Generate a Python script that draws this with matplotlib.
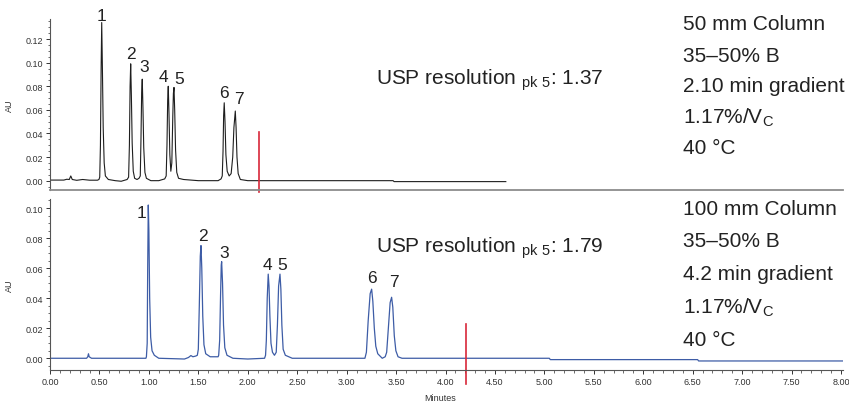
import numpy as np
import matplotlib
matplotlib.use('Agg')
import matplotlib.pyplot as plt
from matplotlib.ticker import MultipleLocator, FormatStrFormatter

plt.rcParams['font.family'] = ['Liberation Sans', 'DejaVu Sans']
plt.rcParams['mathtext.fontset'] = 'custom'
plt.rcParams['mathtext.rm'] = 'Liberation Sans'

# ---- 50 mm column trace (minutes, AU)
t_50 = [0.00, 0.14, 0.17, 0.195, 0.21, 0.225, 0.27, 0.33, 0.40, 0.48, 0.495,
        0.503, 0.510, 0.517, 0.523, 0.530, 0.538, 0.548, 0.560, 0.590, 0.66, 0.72, 0.78,
        0.795, 0.803, 0.810, 0.816, 0.823, 0.831, 0.842, 0.856, 0.880, 0.900,
        0.913, 0.920, 0.927, 0.933, 0.940, 0.948, 0.960, 0.975, 1.02, 1.10, 1.16,
        1.175, 1.183, 1.190, 1.196, 1.203, 1.212, 1.222, 1.232, 1.242, 1.248, 1.254,
        1.261, 1.270, 1.282, 1.300, 1.35, 1.50, 1.70, 1.73,
        1.742, 1.750, 1.756, 1.762, 1.770, 1.779, 1.792, 1.812, 1.832, 1.848, 1.860,
        1.874, 1.882, 1.891, 1.903, 1.925, 2.00, 3.47, 3.48, 4.61]
au_50 = [0.0005, 0.0005, 0.0012, 0.0010, 0.0040, 0.0010, 0.0003, 0.0010, 0.0004, 0.0004, 0.0010,
         0.003, 0.030, 0.095, 0.134, 0.095, 0.045, 0.015, 0.004, 0.001, 0.000, -0.0005, 0.0010,
         0.003, 0.030, 0.080, 0.099, 0.072, 0.032, 0.008, 0.002, 0.001, 0.002,
         0.004, 0.035, 0.075, 0.086, 0.062, 0.028, 0.007, 0.002, 0.000, 0.000, 0.0015,
         0.004, 0.030, 0.068, 0.080, 0.058, 0.022, 0.008, 0.015, 0.055, 0.074, 0.079,
         0.060, 0.026, 0.007, 0.002, 0.001, 0.000, 0.000, 0.0015,
         0.004, 0.025, 0.055, 0.066, 0.050, 0.022, 0.008, 0.004, 0.006, 0.020, 0.045,
         0.059, 0.045, 0.020, 0.006, 0.001, 0.000, 0.000, -0.0008, -0.0008]

# ---- 100 mm column trace
t_100 = [0.00, 0.37, 0.382, 0.389, 0.396, 0.42, 0.97,
         0.975, 0.983, 0.988, 0.994, 1.000, 1.008, 1.018, 1.032, 1.055, 1.10,
         1.36, 1.40, 1.425, 1.445, 1.475, 1.49,
         1.500, 1.510, 1.520, 1.527, 1.535, 1.545, 1.557, 1.575, 1.62, 1.70,
         1.706, 1.716, 1.725, 1.732, 1.736, 1.745, 1.755, 1.768, 1.790, 1.85, 2.00, 2.17,
         2.180, 2.188, 2.197, 2.207, 2.215, 2.224, 2.235, 2.250, 2.270,
         2.288, 2.300, 2.312, 2.326, 2.335, 2.345, 2.358, 2.38, 2.45,
         3.185, 3.200, 3.218, 3.238, 3.253, 3.265, 3.280, 3.295, 3.315, 3.36,
         3.390, 3.405, 3.422, 3.440, 3.455, 3.467, 3.482, 3.498, 3.520, 3.56,
         5.05, 5.06, 6.55, 6.56, 8.02]
au_100 = [0.0, 0.0, 0.0010, 0.0030, 0.0010, 0.0, 0.0,
          0.001, 0.010, 0.060, 0.102, 0.085, 0.040, 0.014, 0.005, 0.002, 0.000,
          -0.0005, 0.0005, 0.0018, 0.0010, 0.0015, 0.0020,
          0.006, 0.035, 0.068, 0.075, 0.060, 0.028, 0.009, 0.003, 0.001, 0.001,
          0.002, 0.012, 0.042, 0.062, 0.0643, 0.050, 0.022, 0.007, 0.002, 0.000, -0.0005, 0.000,
          0.002, 0.012, 0.040, 0.056, 0.048, 0.028, 0.010, 0.004, 0.002,
          0.004, 0.022, 0.048, 0.056, 0.046, 0.022, 0.006, 0.002, 0.000,
          0.000, 0.004, 0.025, 0.043, 0.046, 0.038, 0.020, 0.008, 0.003, 0.000,
          0.001, 0.004, 0.020, 0.037, 0.0406, 0.034, 0.015, 0.005, 0.001, 0.000,
          0.000, -0.0009, -0.0009, -0.0018, -0.0018]

peak_names = ['1', '2', '3', '4', '5', '6', '7']
label_t_50 = [0.523, 0.816, 0.953, 1.146, 1.307, 1.759, 1.908]
label_y_50 = [0.1398, 0.108, 0.0966, 0.0884, 0.0867, 0.0743, 0.0698]
label_t_100 = [0.927, 1.550, 1.759, 2.197, 2.353, 3.253, 3.481]
label_y_100 = [0.0971, 0.0816, 0.0705, 0.0627, 0.0627, 0.0539, 0.0510]

gradient_end = [2.113, 4.21]
marker_span = [(-0.0093, 0.0415), (-0.0171, 0.0229)]
resolution = ['1.37', '1.79']
conditions_50 = ['50 mm Column', '35\u201350% B', '2.10 min gradient',
                 '1.17%/V$_{\\mathrm{C}}$', '40 \u00b0C']
conditions_100 = ['100 mm Column', '35\u201350% B', '4.2 min gradient',
                  '1.17%/V$_{\\mathrm{C}}$', '40 \u00b0C']

fig = plt.figure(figsize=(8.49, 4.02), dpi=100)
ax1 = fig.add_axes([0.0589, 0.5249, 0.934, 0.4254])
ax2 = fig.add_axes([0.0589, 0.0779, 0.934, 0.4246])

ax1.plot(t_50, au_50, color='#1e1e1e', lw=0.8)
ax2.plot(t_100, au_100, color='#3d5ca6', lw=0.9)

ax1.set_ylim(-0.0079, 0.137)
ax2.set_ylim(-0.0076, 0.106)

for ax, tl, yl, g, span in [(ax1, label_t_50, label_y_50, gradient_end[0], marker_span[0]),
                            (ax2, label_t_100, label_y_100, gradient_end[1], marker_span[1])]:
    ax.set_xlim(0, 8.02)
    for sp in ['top', 'right']:
        ax.spines[sp].set_visible(False)
    ax.spines['left'].set_color('#555555')
    ax.spines['left'].set_linewidth(0.8)
    ax.yaxis.set_major_locator(MultipleLocator(0.02))
    ax.yaxis.set_minor_locator(MultipleLocator(0.005))
    ax.yaxis.set_major_formatter(FormatStrFormatter('%.2f'))
    ax.tick_params(axis='y', which='major', length=3, width=0.7, pad=2,
                   labelsize=6.5, colors='#333333')
    ax.tick_params(axis='y', which='minor', length=1.8, width=0.6, colors='#555555')
    ax.set_ylabel('AU', fontsize=6.5, color='#333333')
    ax.yaxis.set_label_coords(-0.0454, 0.5)
    ax.plot([g, g], span, color='#d8283a', lw=1.2, clip_on=False)
    for name, x, y in zip(peak_names, tl, yl):
        ax.text(x, y, name, fontsize=12.5, ha='center', va='center',
                color='#222222', clip_on=False)

ax1.spines['bottom'].set_color('#8c8c8c')
ax1.spines['bottom'].set_linewidth(1.3)
ax1.set_xticks([])

ax2.spines['bottom'].set_color('#555555')
ax2.spines['bottom'].set_linewidth(0.8)
ax2.xaxis.set_major_locator(MultipleLocator(0.5))
ax2.xaxis.set_minor_locator(MultipleLocator(0.1))
ax2.xaxis.set_major_formatter(FormatStrFormatter('%.2f'))
ax2.tick_params(axis='x', which='major', length=3, width=0.7, pad=2,
                labelsize=6.5, colors='#333333')
ax2.tick_params(axis='x', which='minor', length=2, width=0.6, colors='#555555')
ax2.set_xlabel('Minutes', fontsize=6.5, color='#333333')
ax2.xaxis.set_label_coords(0.492, -0.136)

# annotation text
W, H = 849.0, 402.0
for y_px, res in zip([80, 248], resolution):
    fig.text(376 / W, 1 - y_px / H,
             'USP resolution $\\mathrm{_{pk\\ 5}}$: ' + res,
             fontsize=15, ha='left', va='center', color='#222222')

for lines, ys in [(conditions_50, [25, 56, 87, 118, 149]),
                  (conditions_100, [210, 242, 275, 308, 341])]:
    for s, y_px in zip(lines, ys):
        fig.text(683 / W, 1 - y_px / H, s, fontsize=15, ha='left',
                 va='center', color='#222222')

fig.savefig('out.png', dpi=100)
